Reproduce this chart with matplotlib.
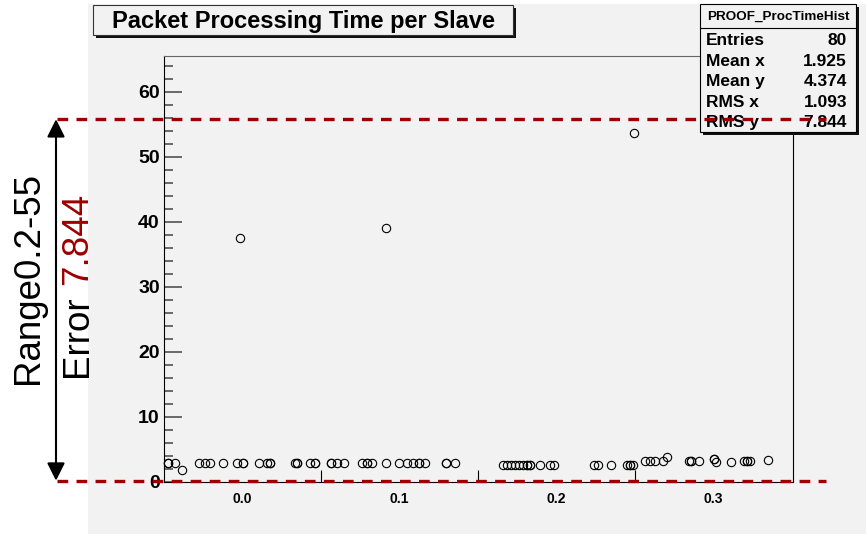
import matplotlib
matplotlib.use('Agg')
import matplotlib.pyplot as plt
from matplotlib.patches import Rectangle, FancyArrowPatch
from matplotlib.lines import Line2D
from matplotlib.transforms import blended_transform_factory
import numpy as np

plt.rcParams['font.family'] = ['Liberation Sans', 'DejaVu Sans']
plt.rcParams['lines.scale_dashes'] = False

# packet position vs processing time (s) for each packet
slave_x = [-0.0477, -0.0477, -0.0433, -0.0388, -0.0277, -0.0242, -0.0210, -0.0124,
           -0.0035, -0.0019, 0.0006, 0.0006, 0.0108, 0.0156, 0.0178, 0.0178,
           0.0331, 0.0350, 0.0350, 0.0429, 0.0464, 0.0464, 0.0566, 0.0566,
           0.0604, 0.0643, 0.0760, 0.0792, 0.0792, 0.0824, 0.0913, 0.0916,
           0.0999, 0.1046, 0.1088, 0.1123, 0.1123, 0.1164, 0.1298, 0.1298,
           0.1355, 0.1660, 0.1686, 0.1711, 0.1737, 0.1762, 0.1788, 0.1813,
           0.1813, 0.1832, 0.1832, 0.1893, 0.1956, 0.1985, 0.2236, 0.2265,
           0.2347, 0.2446, 0.2468, 0.2468, 0.2487, 0.2494, 0.2564, 0.2595,
           0.2627, 0.2675, 0.2702, 0.2845, 0.2854, 0.2854, 0.2909, 0.3003,
           0.3003, 0.3015, 0.3109, 0.3195, 0.3211, 0.3211, 0.3232, 0.3348]
proc_time = [2.9, 2.9, 2.9, 1.85, 2.9, 2.9, 2.9, 2.9,
             2.9, 37.6, 2.9, 2.9, 2.9, 2.9, 2.9, 2.9,
             2.9, 2.9, 2.9, 2.9, 2.9, 2.9, 2.9, 2.9,
             2.9, 2.9, 2.9, 2.9, 2.9, 2.9, 2.9, 39.0,
             2.9, 2.9, 2.9, 2.9, 2.9, 2.9, 2.9, 2.9,
             2.9, 2.6, 2.6, 2.6, 2.6, 2.6, 2.6, 2.6,
             2.6, 2.6, 2.6, 2.6, 2.6, 2.6, 2.6, 2.6,
             2.6, 2.6, 2.6, 2.6, 2.6, 53.7, 3.3, 3.3,
             3.3, 3.3, 3.8, 3.3, 3.3, 3.3, 3.3, 3.5,
             3.5, 3.1, 3.1, 3.3, 3.3, 3.3, 3.3, 3.4]

x_ticks = [0.0, 0.1, 0.2, 0.3]
x_tick_labels = ['0.0', '0.1', '0.2', '0.3']
x_marks = [0.05, 0.15, 0.25]
y_ticks = [0, 10, 20, 30, 40, 50, 60]

hist_name = 'PROOF_ProcTimeHist'
stat_names = ['Entries', 'Mean x', 'Mean y', 'RMS x', 'RMS y']
stat_values = ['80', '1.925', '4.374', '1.093', '7.844']

range_lo = 0.2
range_hi = 55.8
rms_y = 7.844

W, H = 866, 534
BG = '#f2f2f2'
RED = '#9c0000'


def fx(p):
    return p / W


def fy(p):
    # pixel rows counted from the top
    return 1 - p / H


fig = plt.figure(figsize=(W / 100, H / 100), dpi=100)
fig.patch.set_facecolor('white')
fig.add_artist(Rectangle((fx(88), 0), 1 - fx(88), 530 / H, transform=fig.transFigure,
                         facecolor=BG, edgecolor='none', zorder=-5))

ax = fig.add_axes([fx(164), fy(482), (793 - 164) / W, (482 - 55.5) / H])
ax.set_facecolor(BG)
ax.plot(slave_x, proc_time, linestyle='none', marker='o', ms=6, mfc='none',
        mec='black', mew=0.8, clip_on=False)

ax.set_xlim(-0.05, 0.3505)
ax.set_ylim(0, 65.6)
ax.set_xticks(x_ticks)
ax.set_xticklabels(x_tick_labels)
ax.set_xticks(x_marks, minor=True)
ax.set_yticks(y_ticks)
ax.set_yticks(np.arange(0, 66, 2), minor=True)
ax.tick_params(axis='x', which='major', length=0, pad=7, labelsize=10)
ax.tick_params(axis='x', which='minor', direction='in', length=8.6, width=0.8, color='black')
ax.tick_params(axis='y', which='major', direction='in', length=13, width=1.1,
               color='#444444', labelsize=14, pad=3)
ax.tick_params(axis='y', which='minor', direction='in', length=6.5, width=1.1, color='#444444')
for lab in ax.get_xticklabels() + ax.get_yticklabels():
    lab.set_fontweight('bold')
for side in ['left', 'right', 'bottom']:
    ax.spines[side].set_color('black')
ax.spines['top'].set_color('#666666')

# title box with shadow
fig.add_artist(Rectangle((fx(96), fy(38)), 420 / W, 30 / H, transform=fig.transFigure,
                         facecolor='#111111', edgecolor='none', zorder=3))
fig.add_artist(Rectangle((fx(93), fy(35)), 420 / W, 30 / H, transform=fig.transFigure,
                         facecolor=BG, edgecolor='#333333', lw=0.8, zorder=3))
fig.text(fx(303), fy(28.3), 'Packet Processing Time per Slave', ha='center',
         va='baseline', fontsize=17, fontweight='bold', zorder=4)

# statistics box
fig.add_artist(Rectangle((fx(703), fy(134.7)), 156 / W, 127.7 / H, transform=fig.transFigure,
                         facecolor='#111111', edgecolor='none', zorder=3))
fig.add_artist(Rectangle((fx(700), fy(131.7)), 156 / W, 127.7 / H, transform=fig.transFigure,
                         facecolor=BG, edgecolor='black', lw=0.8, zorder=3))
fig.add_artist(Line2D([fx(700), fx(856)], [fy(28), fy(28)], transform=fig.transFigure,
                      color='black', lw=0.8, zorder=3))
fig.text(fx(778), fy(20), hist_name, ha='center', va='baseline', fontsize=9.7,
         fontweight='bold', zorder=4)
for i, (name, val) in enumerate(zip(stat_names, stat_values)):
    base = 45 + i * 20.6
    fig.text(fx(706), fy(base), name, ha='left', va='baseline', fontsize=12.5,
             fontweight='bold', zorder=4)
    fig.text(fx(847), fy(base), val, ha='right', va='baseline', fontsize=12.5,
             fontweight='bold', zorder=4)

# range markers and the arrow between them
trans = blended_transform_factory(fig.transFigure, ax.transData)
for yv in (range_lo, range_hi):
    fig.add_artist(Line2D([fx(57), fx(826)], [yv, yv], transform=trans, color=RED,
                          lw=2.4, dashes=(7.7, 6), zorder=10))
fig.add_artist(FancyArrowPatch((fx(56), range_lo), (fx(56), range_hi), transform=trans,
                               arrowstyle='<|-|>,head_length=1.0,head_width=0.5',
                               mutation_scale=10.8, color='black', lw=1.5,
                               shrinkA=0, shrinkB=0, zorder=9))

fig.text(fx(38), 256 / H, f'Range{range_lo:g}-{int(range_hi)}', rotation=90,
         rotation_mode='anchor', ha='center', va='baseline', fontsize=26.5)
fig.text(fx(87), 239 / H, 'Error', rotation=90, rotation_mode='anchor',
         ha='right', va='baseline', fontsize=26.5, color='black')
fig.text(fx(87), 249 / H, f'{rms_y:.3f}', rotation=90, rotation_mode='anchor',
         ha='left', va='baseline', fontsize=26.5, color=RED)

fig.savefig('out.png', dpi=100)
